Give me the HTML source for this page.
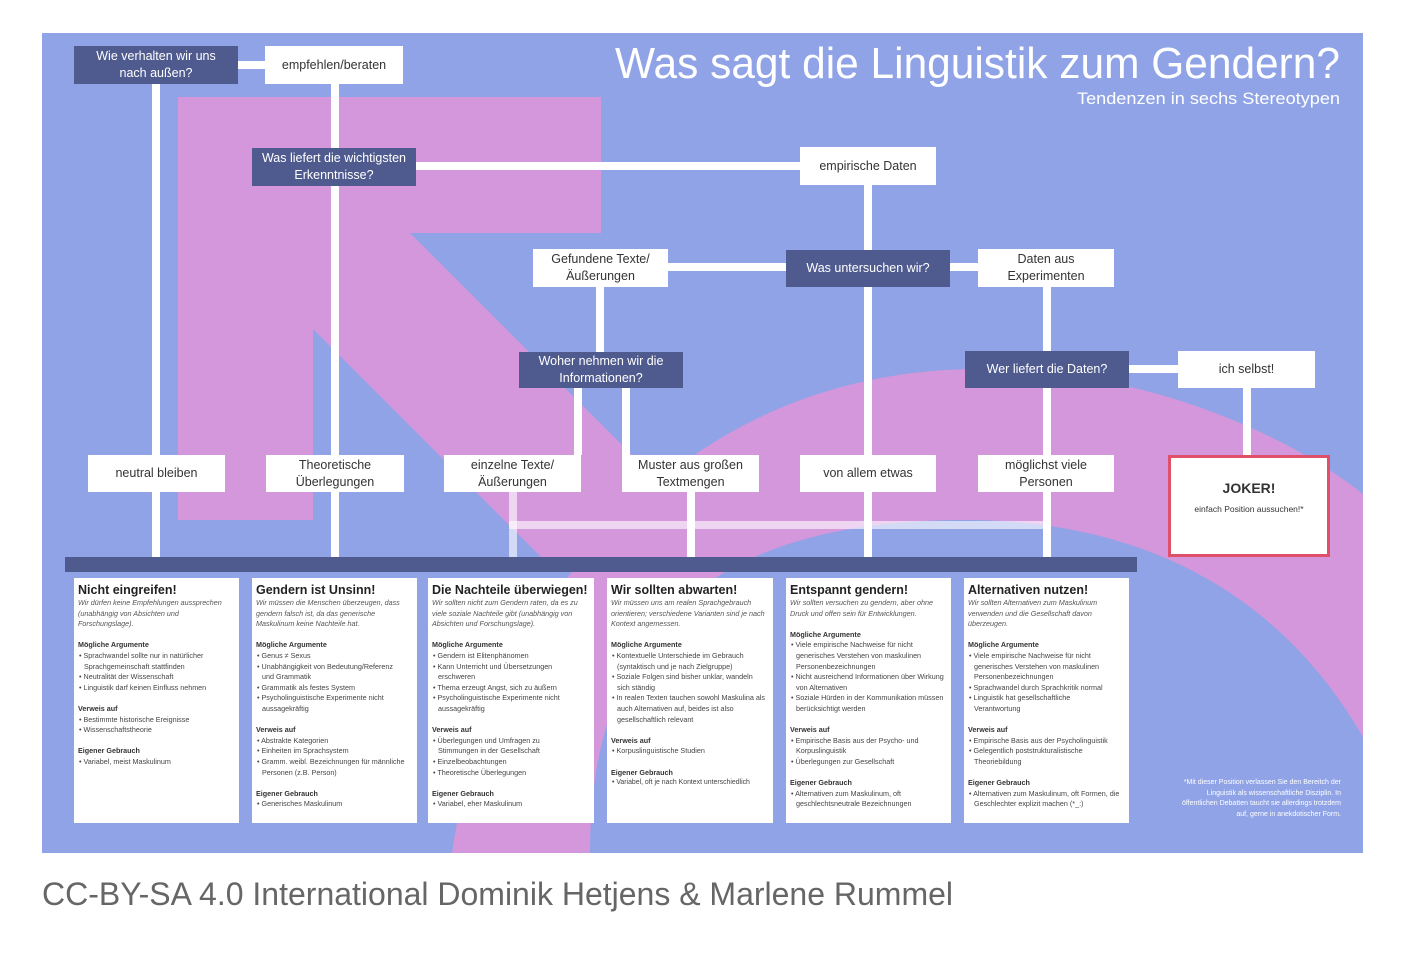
<!DOCTYPE html>
<html><head><meta charset="utf-8"><style>
html,body{margin:0;width:1402px;height:966px;overflow:hidden}
body{background:#fff;position:relative;font-family:"Liberation Sans",sans-serif}
.b{position:absolute;display:flex;align-items:center;justify-content:center;text-align:center;font-size:12.5px;line-height:17px;box-sizing:border-box}
.d{background:#4f5b8f;color:#fff}
.w{background:#fff;color:#333}
.c{position:absolute;top:578px;height:245px;background:#fff;box-sizing:border-box;padding:4px 7px 0 4px;color:#444;font-size:7.2px;line-height:10.6px;overflow:hidden}
.c h3{margin:0;font-size:12.5px;line-height:16px;color:#222;font-weight:bold;white-space:nowrap}
.c .i{font-style:italic;color:#555}
.c .h{font-weight:bold;color:#333;margin-top:10.6px}
.c .l{padding-left:6px;text-indent:-5px}
</style></head><body>
<svg width="1402" height="966" style="position:absolute;left:0;top:0">
<defs><clipPath id="bg"><rect x="42" y="33" width="1321" height="820"/></clipPath></defs>
<rect x="42" y="33" width="1321" height="820" fill="#8fa3e6"/>
<g clip-path="url(#bg)">
<path d="M452,853 C480,650 650,369 980,369 C1150,369 1300,440 1370,500 L1370,860 Z" fill="#d497dc"/>
<path d="M590,853 C590,640 700,520 965,520 C1150,520 1290,600 1370,750 L1370,860 Z" fill="#8fa3e6"/>
<polygon points="178,97 601,97 601,233 410,233 735,558 542,558 313,329 313,520 178,520" fill="#d497dc"/>
</g>
<g stroke="#fff" stroke-width="8" fill="none">
<line x1="238" y1="65" x2="265" y2="65"/>
<line x1="156" y1="84" x2="156" y2="558"/>
<line x1="335" y1="84" x2="335" y2="558"/>
<line x1="416" y1="166" x2="800" y2="166"/>
<line x1="868" y1="185" x2="868" y2="558"/>
<line x1="668" y1="267" x2="978" y2="267"/>
<line x1="600" y1="287" x2="600" y2="352"/>
<line x1="578" y1="388" x2="578" y2="455"/>
<line x1="626" y1="388" x2="626" y2="455"/>
<line x1="691" y1="492" x2="691" y2="558"/>
<line x1="1047" y1="287" x2="1047" y2="558"/>
<line x1="1129" y1="369" x2="1178" y2="369"/>
<line x1="1247" y1="388" x2="1247" y2="456"/>
</g>
<g stroke="#fff" stroke-opacity="0.6" stroke-width="8" fill="none">
<line x1="513" y1="492" x2="513" y2="558"/>
<line x1="509" y1="525" x2="1043" y2="525"/>
</g>
<rect x="65" y="557" width="1072" height="15" fill="#4f5b8f"/>
<text x="1340" y="78" text-anchor="end" font-family="Liberation Sans" font-size="44" fill="#fff" textLength="725" lengthAdjust="spacingAndGlyphs">Was sagt die Linguistik zum Gendern?</text>
<text x="1340" y="104" text-anchor="end" font-family="Liberation Sans" font-size="17" fill="#fff" textLength="263" lengthAdjust="spacingAndGlyphs">Tendenzen in sechs Stereotypen</text>
<text x="42" y="905" font-family="Liberation Sans" font-size="32" fill="#666" textLength="911" lengthAdjust="spacingAndGlyphs">CC-BY-SA 4.0 International Dominik Hetjens &amp; Marlene Rummel</text>
</svg>

<div class="b d" style="left:74px;top:46px;width:164px;height:38px">Wie verhalten wir uns<br>nach außen?</div>
<div class="b w" style="left:265px;top:46px;width:138px;height:38px">empfehlen/beraten</div>
<div class="b d" style="left:252px;top:148px;width:164px;height:38px">Was liefert die wichtigsten<br>Erkenntnisse?</div>
<div class="b w" style="left:800px;top:147px;width:136px;height:38px">empirische Daten</div>
<div class="b w" style="left:533px;top:249px;width:135px;height:38px">Gefundene Texte/<br>Äußerungen</div>
<div class="b d" style="left:786px;top:250px;width:164px;height:37px">Was untersuchen wir?</div>
<div class="b w" style="left:978px;top:249px;width:136px;height:38px">Daten aus<br>Experimenten</div>
<div class="b d" style="left:519px;top:352px;width:164px;height:36px">Woher nehmen wir die<br>Informationen?</div>
<div class="b d" style="left:965px;top:351px;width:164px;height:37px">Wer liefert die Daten?</div>
<div class="b w" style="left:1178px;top:351px;width:137px;height:37px">ich selbst!</div>
<div class="b w" style="left:88px;top:455px;width:137px;height:37px">neutral bleiben</div>
<div class="b w" style="left:266px;top:455px;width:138px;height:37px">Theoretische<br>Überlegungen</div>
<div class="b w" style="left:444px;top:455px;width:137px;height:37px">einzelne Texte/<br>Äußerungen</div>
<div class="b w" style="left:622px;top:455px;width:137px;height:37px">Muster aus großen<br>Textmengen</div>
<div class="b w" style="left:800px;top:455px;width:136px;height:37px">von allem etwas</div>
<div class="b w" style="left:978px;top:455px;width:136px;height:37px">möglichst viele<br>Personen</div>
<div style="position:absolute;left:1168px;top:455px;width:162px;height:102px;box-sizing:border-box;border:3px solid #e0506b;background:#fff;text-align:center;color:#333">
<div style="font-weight:bold;font-size:14px;margin-top:22px">JOKER!</div>
<div style="font-size:8.5px;margin-top:8px">einfach Position aussuchen!*</div></div>

<div style="position:absolute;left:1100px;top:778px;width:241px;text-align:right;color:#fff;font-size:7px;line-height:10.5px;white-space:nowrap">*Mit dieser Position verlassen Sie den Bereitch der<br>Linguistik als wissenschaftliche Disziplin. In<br>öffentlichen Debatten taucht sie allerdings trotzdem<br>auf, gerne in anekdotischer Form.</div>

<div class="c" style="left:74px;width:165px"><h3>Nicht eingreifen!</h3>
<div class="i">Wir dürfen keine Empfehlungen aussprechen (unabhängig von Absichten und Forschungslage).</div>
<div class="h">Mögliche Argumente</div>
<div class="l">• Sprachwandel sollte nur in natürlicher Sprachgemeinschaft stattfinden</div>
<div class="l">• Neutralität der Wissenschaft</div>
<div class="l">• Linguistik darf keinen Einfluss nehmen</div>
<div class="h">Verweis auf</div>
<div class="l">• Bestimmte historische Ereignisse</div>
<div class="l">• Wissenschaftstheorie</div>
<div class="h">Eigener Gebrauch</div>
<div class="l">• Variabel, meist Maskulinum</div></div>

<div class="c" style="left:252px;width:165px"><h3>Gendern ist Unsinn!</h3>
<div class="i">Wir müssen die Menschen überzeugen, dass gendern falsch ist, da das generische Maskulinum keine Nachteile hat.</div>
<div class="h">Mögliche Argumente</div>
<div class="l">• Genus ≠ Sexus</div>
<div class="l">• Unabhängigkeit von Bedeutung/Referenz<br>und Grammatik</div>
<div class="l">• Grammatik als festes System</div>
<div class="l">• Psycholinguistische Experimente nicht aussagekräftig</div>
<div class="h">Verweis auf</div>
<div class="l">• Abstrakte Kategorien</div>
<div class="l">• Einheiten im Sprachsystem</div>
<div class="l">• Gramm. weibl. Bezeichnungen für männliche Personen (z.B. Person)</div>
<div class="h">Eigener Gebrauch</div>
<div class="l">• Generisches Maskulinum</div></div>

<div class="c" style="left:428px;width:166px"><h3>Die Nachteile überwiegen!</h3>
<div class="i">Wir sollten nicht zum Gendern raten, da es zu viele soziale Nachteile gibt (unabhängig von Absichten und Forschungslage).</div>
<div class="h">Mögliche Argumente</div>
<div class="l">• Gendern ist Elitenphänomen</div>
<div class="l">• Kann Unterricht und Übersetzungen<br>erschweren</div>
<div class="l">• Thema erzeugt Angst, sich zu äußern</div>
<div class="l">• Psycholinguistische Experimente nicht aussagekräftig</div>
<div class="h">Verweis auf</div>
<div class="l">• Überlegungen und Umfragen zu<br>Stimmungen in der Gesellschaft</div>
<div class="l">• Einzelbeobachtungen</div>
<div class="l">• Theoretische Überlegungen</div>
<div class="h">Eigener Gebrauch</div>
<div class="l">• Variabel, eher Maskulinum</div></div>

<div class="c" style="left:607px;width:166px"><h3>Wir sollten abwarten!</h3>
<div class="i">Wir müssen uns am realen Sprachgebrauch orientieren; verschiedene Varianten sind je nach Kontext angemessen.</div>
<div class="h">Mögliche Argumente</div>
<div class="l">• Kontextuelle Unterschiede im Gebrauch (syntaktisch und je nach Zielgruppe)</div>
<div class="l">• Soziale Folgen sind bisher unklar, wandeln sich ständig</div>
<div class="l">• In realen Texten tauchen sowohl Maskulina als auch Alternativen auf, beides ist also gesellschaftlich relevant</div>
<div class="h">Verweis auf</div>
<div class="l">• Korpuslinguistische Studien</div>
<div class="h">Eigener Gebrauch</div>
<div class="l" style="white-space:nowrap;font-size:6.9px">• Variabel, oft je nach Kontext unterschiedlich</div></div>

<div class="c" style="left:786px;width:165px"><h3>Entspannt gendern!</h3>
<div class="i">Wir sollten versuchen zu gendern, aber ohne Druck und offen sein für Entwicklungen.</div>
<div class="h">Mögliche Argumente</div>
<div class="l">• Viele empirische Nachweise für nicht<br>generisches Verstehen von maskulinen Personenbezeichnungen</div>
<div class="l">• Nicht ausreichend Informationen über Wirkung von Alternativen</div>
<div class="l">• Soziale Hürden in der Kommunikation müssen berücksichtigt werden</div>
<div class="h">Verweis auf</div>
<div class="l">• Empirische Basis aus der Psycho- und Korpuslinguistik</div>
<div class="l">• Überlegungen zur Gesellschaft</div>
<div class="h">Eigener Gebrauch</div>
<div class="l">• Alternativen zum Maskulinum, oft geschlechtsneutrale Bezeichnungen</div></div>

<div class="c" style="left:964px;width:165px"><h3>Alternativen nutzen!</h3>
<div class="i">Wir sollten Alternativen zum Maskulinum verwenden und die Gesellschaft davon überzeugen.</div>
<div class="h">Mögliche Argumente</div>
<div class="l">• Viele empirische Nachweise für nicht<br>generisches Verstehen von maskulinen Personenbezeichnungen</div>
<div class="l">• Sprachwandel durch Sprachkritik normal</div>
<div class="l">• Linguistik hat gesellschaftliche<br>Verantwortung</div>
<div class="h">Verweis auf</div>
<div class="l">• Empirische Basis aus der Psycholinguistik</div>
<div class="l">• Gelegentlich poststrukturalistische Theoriebildung</div>
<div class="h">Eigener Gebrauch</div>
<div class="l">• Alternativen zum Maskulinum, oft Formen, die Geschlechter explizit machen (*_:)</div></div>
</body></html>
